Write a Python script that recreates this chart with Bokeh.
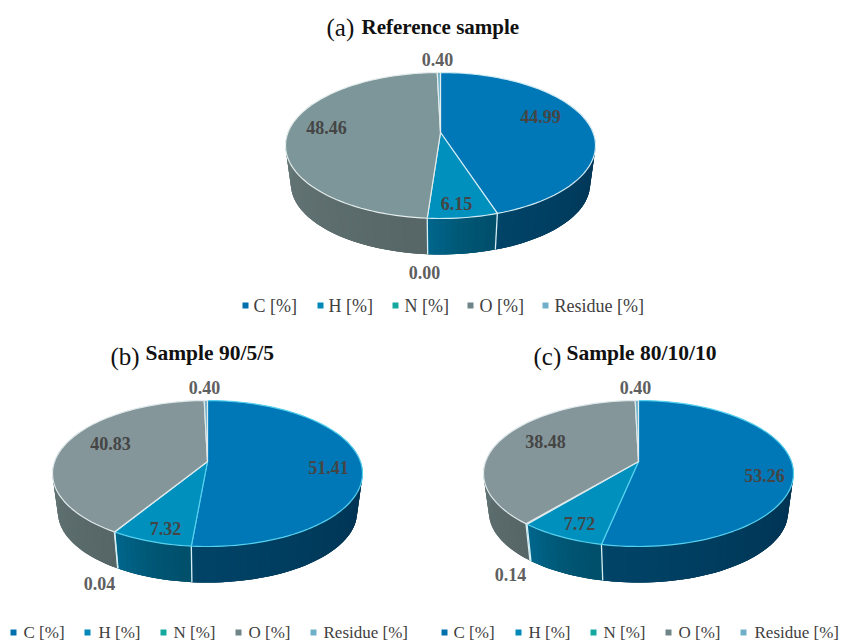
import math

from bokeh.core.properties import value
from bokeh.embed import file_html
from bokeh.models import ColumnDataSource, Range1d
from bokeh.plotting import figure
from bokeh.resources import INLINE

# Mass fractions read per sample, clockwise from the top of each pie
components = ["C [%]", "H [%]", "N [%]", "O [%]", "Residue [%]"]
reference_sample = [44.99, 6.15, 0.00, 48.46, 0.40]
sample_90_5_5 = [51.41, 7.32, 0.04, 40.83, 0.40]
sample_80_10_10 = [53.26, 7.72, 0.14, 38.48, 0.40]
value_labels = {
    "a": ["44.99", "6.15", "0.00", "48.46", "0.40"],
    "b": ["51.41", "7.32", "0.04", "40.83", "0.40"],
    "c": ["53.26", "7.72", "0.14", "38.48", "0.40"],
}

# Palette
TOP = ["#0078b8", "#0090bd", "#12aaa6", "#7d9699", "#6fb3cb"]
SWATCH = ["#0070ad", "#0088b8", "#14a89f", "#6f8588", "#6fb0c8"]
# Wall shading per slice: colour at the slice's start, middle and end angle
WALL_STOPS = [
    ("#00405f", "#003150", "#004468"),
    ("#004e6a", "#005775", "#00668c"),
    ("#085c58", "#0a6c68", "#0a7c78"),
    ("#566667", "#677879", "#82979a"),
    ("#5c8fa3", "#5c8fa3", "#5c8fa3"),
]
DARK_TEXT = "#454545"
SOFT_TEXT = "#5f5f5f"

W, H = 841, 641
SERIF = value("Liberation Serif")

# Panel layout in page pixels
PANELS = [
    dict(key="a", values=reference_sample, cx=440, apex=132, top=72, bottom=218,
         half=155, depth=39, edge=["#cfeaf2", "#cfeaf2", "#cfeaf2", "#e4ecec", "#e4ecec"],
         o_top="#7d9699", name_size="21px", legend_size="18px",
         tag=("(a)", 326, 27), name=("Reference sample", 361, 26),
         label_at=[(100, -16), (16, 71), (-16, 140), (-114, -5), (-3, -73)],
         soft=[False, False, True, False, True], legend_y=305,
         swatch_x=[245, 320, 395, 470, 545], text_x=[253, 328, 404, 479, 554]),
    dict(key="b", values=sample_90_5_5, cx=207, apex=461, top=400, bottom=546,
         half=155, depth=39, edge=["#55d0ee", "#55d0ee", "#dfe8ea", "#dfe8ea", "#dfe8ea"],
         o_top="#84969a", name_size="21.5px", legend_size="17px",
         tag=("(b)", 110, 356), name=("Sample 90/5/5", 145, 352),
         label_at=[(121, 6), (-42, 67), (-108, 122), (-97, -18), (-3, -74)],
         soft=[False, False, True, False, True], legend_y=632,
         swatch_x=[13, 87, 163, 238, 313], text_x=[23, 98, 173, 248, 323]),
    dict(key="c", values=sample_80_10_10, cx=638, apex=461, top=400, bottom=546,
         half=155, depth=39, edge=["#55d0ee", "#55d0ee", "#dfe8ea", "#dfe8ea", "#dfe8ea"],
         o_top="#84969a", name_size="21.5px", legend_size="17px",
         tag=("(c)", 533, 356), name=("Sample 80/10/10", 566, 352),
         label_at=[(126, 14), (-59, 62), (-128, 113), (-93, -20), (-3, -74)],
         soft=[False, False, True, False, True], legend_y=632,
         swatch_x=[444, 518, 593, 668, 743], text_x=[453, 528, 603, 678, 754]),
]

VISIBLE_COS = 0.45  # wall parts further back than this sit behind the top face


def mix(c1, c2, t):
    a = [int(c1[i:i + 2], 16) for i in (1, 3, 5)]
    b = [int(c2[i:i + 2], 16) for i in (1, 3, 5)]
    return "#%02x%02x%02x" % tuple(round(x + (y - x) * t) for x, y in zip(a, b))


def wall_colour(stops, t):
    if t < 0.5:
        return mix(stops[0], stops[1], t * 2)
    return mix(stops[1], stops[2], (t - 0.5) * 2)


def projector(panel):
    """Perspective view of a tilted disc: angle (clockwise from top) to page pixels."""
    back = panel["apex"] - panel["top"]
    front = panel["bottom"] - panel["apex"]
    k = (front - back) / (front + back)
    s = back * (1 + k)
    r = panel["half"] * math.sqrt(1 - k * k)

    def top_rim(deg):
        t = math.radians(deg)
        u, v = math.sin(t), math.cos(t)
        w = 1 + k * v
        return panel["cx"] + r * u / w, panel["apex"] - s * v / w

    def low_rim(deg):
        x, y = top_rim(deg)
        return (panel["cx"] + (x - panel["cx"]) * 0.965,
                panel["apex"] + (y - panel["apex"]) * 0.965 + panel["depth"])

    return top_rim, low_rim


p = figure(width=W, height=H, output_backend="svg", toolbar_location=None,
           x_range=Range1d(0, W), y_range=Range1d(H, 0), min_border=0)
p.axis.visible = False
p.grid.visible = False
p.outline_line_color = None
p.background_fill_color = "white"

for panel in PANELS:
    top_rim, low_rim = projector(panel)
    total = sum(panel["values"])
    top_colours = list(TOP)
    top_colours[3] = panel["o_top"]

    # Turn the values into angular spans
    spans, start = [], 0.0
    for val in panel["values"]:
        end = start + val / total * 360
        spans.append((start, end))
        start = end

    # Side wall: a flat base per slice, with overlapping shaded bands on top
    for i, (a0, a1) in enumerate(spans):
        if a1 <= a0:
            continue
        n = max(1, math.ceil((a1 - a0) / 2))
        angles = [a0 + (a1 - a0) * j / n for j in range(n + 1)]
        front = [a for a in angles if math.cos(math.radians(a)) <= VISIBLE_COS]
        if len(front) < 2:
            continue
        up = [top_rim(a) for a in front]
        down = [low_rim(a) for a in reversed(front)]
        p.patch([q[0] for q in up + down], [q[1] for q in up + down],
                fill_color=WALL_STOPS[i][1], line_color=None)
        xs, ys, cs = [], [], []
        for j in range(len(front) - 1):
            b0 = front[j]
            b1 = front[min(j + 2, len(front) - 1)]
            quad = [top_rim(b0), top_rim(b1), low_rim(b1), low_rim(b0)]
            xs.append([q[0] for q in quad])
            ys.append([q[1] for q in quad])
            cs.append(wall_colour(WALL_STOPS[i], (front[j] - a0 + 1) / (a1 - a0)))
        p.patches(xs, ys, fill_color=cs, line_color=None)

    # Light seams on the wall where two slices meet
    seam_x, seam_y = [], []
    for a0, a1 in spans:
        if a1 > a0 and math.cos(math.radians(a1)) < -0.2:
            t, l = top_rim(a1), low_rim(a1)
            seam_x.append([t[0], l[0]])
            seam_y.append([t[1], l[1]])
    p.multi_line(seam_x, seam_y, line_color="#d5eef4", line_width=1.3)

    # Top face slices
    for i, (a0, a1) in enumerate(spans):
        if a1 <= a0:
            continue
        n = max(2, math.ceil((a1 - a0) / 2))
        rim = [top_rim(a0 + (a1 - a0) * j / n) for j in range(n + 1)]
        xs = [panel["cx"]] + [q[0] for q in rim]
        ys = [panel["apex"]] + [q[1] for q in rim]
        p.patch(xs, ys, fill_color=top_colours[i], line_color=panel["edge"][i],
                line_width=1.2, line_join="round")

    # Slice values
    for lab, (dx, dy), soft in zip(value_labels[panel["key"]], panel["label_at"], panel["soft"]):
        p.text([panel["cx"] + dx], [panel["apex"] + dy], text=[lab],
               text_font=SERIF, text_font_style="bold", text_font_size="18px",
               text_color=SOFT_TEXT if soft else DARK_TEXT,
               text_align="center", text_baseline="middle")

    # Panel heading
    tag, tx, ty = panel["tag"]
    p.text([tx], [ty], text=[tag], text_font=SERIF, text_font_size="25px",
           text_color="#111111", text_align="left", text_baseline="middle")
    name, nx, ny = panel["name"]
    p.text([nx], [ny], text=[name], text_font=SERIF, text_font_style="bold",
           text_font_size=panel["name_size"], text_color="#111111", text_align="left",
           text_baseline="middle")

    # Legend row
    ly = panel["legend_y"]
    src = ColumnDataSource(dict(sx=panel["swatch_x"], tx=panel["text_x"],
                                y=[ly] * len(components), label=components, color=SWATCH))
    p.scatter("sx", "y", source=src, marker="square", size=6, fill_color="color",
              line_color=None)
    p.text("tx", "y", text="label", source=src, text_font=SERIF,
           text_font_size=panel["legend_size"], text_color="#404040",
           text_align="left", text_baseline="middle")

open("out.html", "w").write(file_html(p, INLINE))
